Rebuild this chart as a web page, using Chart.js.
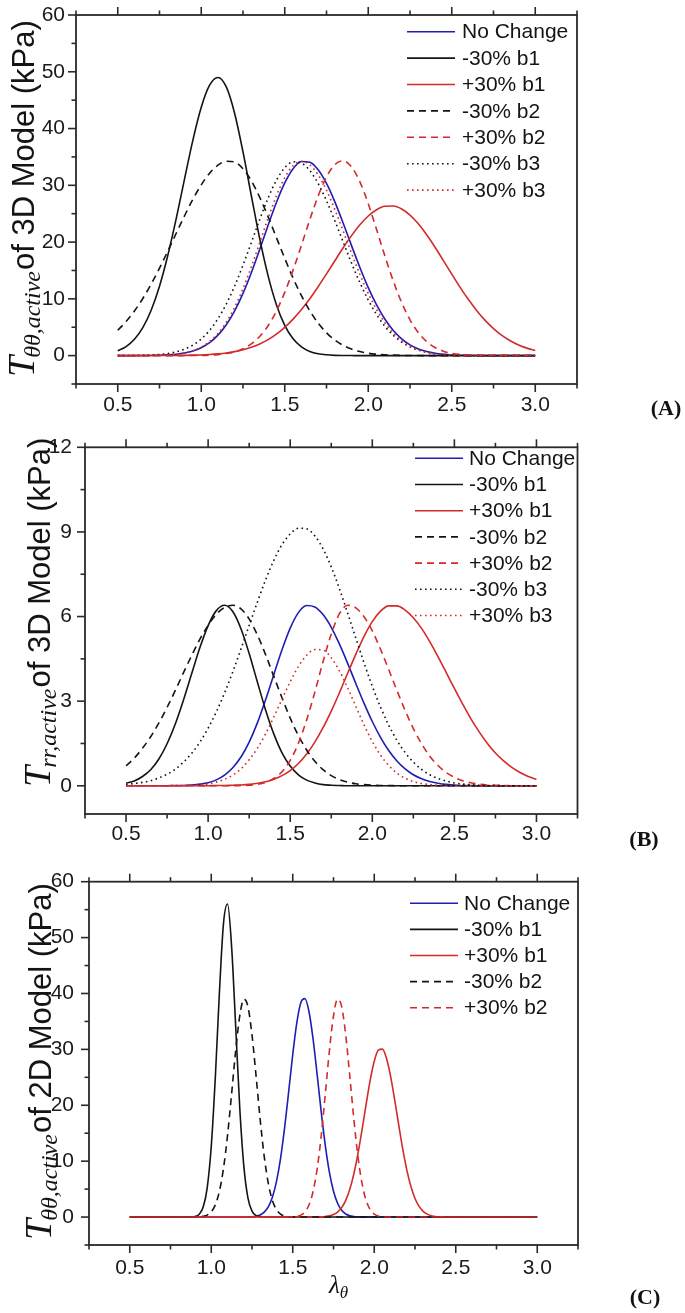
<!DOCTYPE html>
<html><head><meta charset="utf-8">
<script src="https://cdn.jsdelivr.net/npm/chart.js@4.4.1/dist/chart.umd.min.js"></script>
<style>
html,body{margin:0;padding:0;background:#fff;}
body{width:685px;height:1313px;position:relative;overflow:hidden;}
canvas{position:absolute;left:0;}
</style></head><body>
<canvas id="cA" width="685" height="440" style="top:0px"></canvas>
<canvas id="cB" width="685" height="445" style="top:425px"></canvas>
<canvas id="cC" width="685" height="453" style="top:860px"></canvas>
<script>
// ---------- data ----------
const legendLabels = ['No Change','-30% b1','+30% b1','-30% b2','+30% b2','-30% b3','+30% b3'];
const xTickVals = [0.5,1.0,1.5,2.0,2.5,3.0];
const xTickLabels = ['0.5','1.0','1.5','2.0','2.5','3.0'];
const xMinorVals = [0.25,0.75,1.25,1.75,2.25,2.75,3.25];
const aYTicks = [0,10,20,30,40,50,60];
const aYTickLabels = ['0','10','20','30','40','50','60'];
const aYMinor = [-5,5,15,25,35,45,55];
const bYTicks = [0,3,6,9,12];
const bYTickLabels = ['0','3','6','9','12'];
const bYMinor = [1.5,4.5,7.5,10.5];
const cYTicks = [0,10,20,30,40,50,60];
const cYTickLabels = ['0','10','20','30','40','50','60'];
const cYMinor = [-5,5,15,25,35,45,55];

// lambda grid for panels A and B
const xGrid = [0.5,0.55,0.6,0.65,0.7,0.75,0.8,0.85,0.9,0.95,1.0,1.05,1.1,1.15,1.2,1.25,1.3,1.35,1.4,1.45,1.5,1.55,1.6,1.65,1.7,1.75,1.8,1.85,1.9,1.95,2.0,2.05,2.1,2.15,2.2,2.25,2.3,2.35,2.4,2.45,2.5,2.55,2.6,2.65,2.7,2.75,2.8,2.85,2.9,2.95,3.0];

// Panel A: T_theta-theta,active of 3D model (kPa)
const aNoChange = [0,0,0.01,0.01,0.03,0.06,0.13,0.25,0.46,0.81,1.40,2.28,3.61,5.45,7.89,10.97,14.61,18.68,22.92,26.96,30.42,32.93,34.19,34.07,32.74,30.32,27.09,23.33,19.38,15.52,11.98,8.92,6.41,4.43,2.96,1.90,1.18,0.71,0.41,0.23,0.12,0.06,0.03,0.01,0,0,0,0,0,0,0];
const aMinusB1 = [0.83,1.59,2.88,4.93,7.99,12.22,17.67,24.12,31.13,37.97,43.75,47.63,49.0,47.33,42.66,35.88,28.16,20.61,14.09,8.98,5.34,2.96,1.54,0.74,0.33,0.14,0.05,0.02,0.01,0,0,0,0,0,0,0,0,0,0,0,0,0,0,0,0,0,0,0,0,0,0];
const aPlusB1 = [0,0,0,0,0.01,0.01,0.02,0.03,0.05,0.08,0.12,0.20,0.31,0.47,0.70,1.02,1.46,2.05,2.81,3.78,4.98,6.42,8.11,10.03,12.14,14.39,16.71,19.00,21.14,23.04,24.59,25.70,26.30,26.35,25.83,24.76,23.21,21.28,19.08,16.73,14.35,12.03,9.87,7.92,6.21,4.77,3.57,2.62,1.88,1.32,0.91];
const aMinusB2 = [4.47,6.00,7.86,10.06,12.59,15.41,18.43,21.55,24.64,27.54,30.08,32.13,33.55,34.24,34.10,32.93,30.79,27.90,24.48,20.80,17.13,13.65,10.55,7.89,5.72,4.01,2.73,1.80,1.15,0.71,0.42,0.25,0.14,0.08,0.04,0.02,0.01,0,0,0,0,0,0,0,0,0,0,0,0,0,0];
const aPlusB2 = [0,0,0,0,0,0,0,0,0.01,0.02,0.04,0.09,0.18,0.36,0.67,1.21,2.07,3.38,5.27,7.85,11.14,15.07,19.45,23.94,28.12,31.49,33.65,34.30,33.24,30.61,26.76,22.22,17.52,13.12,9.33,6.30,4.04,2.46,1.42,0.78,0.41,0.20,0.09,0.04,0.02,0.01,0,0,0,0,0];
const aMinusB3 = [0.01,0.01,0.03,0.06,0.11,0.21,0.38,0.67,1.14,1.86,2.93,4.45,6.49,9.09,12.27,15.94,19.92,23.97,27.74,30.89,33.11,34.14,33.92,32.60,30.32,27.28,23.74,19.99,16.29,12.84,9.79,7.23,5.16,3.56,2.38,1.54,0.96,0.58,0.34,0.19,0.10,0.05,0.03,0.01,0,0,0,0,0,0,0];
const aPlusB3 = [0,0,0.01,0.01,0.03,0.06,0.13,0.26,0.49,0.87,1.50,2.48,3.91,5.90,8.53,11.81,15.66,19.88,24.17,28.13,31.36,33.47,34.20,33.60,31.85,29.14,25.73,21.92,18.02,14.30,10.95,8.09,5.77,3.97,2.64,1.69,1.05,0.62,0.36,0.20,0.11,0.05,0.03,0.01,0,0,0,0,0,0,0];

// Panel B: T_rr,active of 3D model (kPa)
const bNoChange = [0,0,0,0,0,0,0.01,0.01,0.03,0.06,0.11,0.21,0.38,0.64,1.02,1.55,2.23,3.05,3.94,4.82,5.59,6.14,6.39,6.34,6.07,5.62,5.02,4.34,3.62,2.92,2.28,1.72,1.25,0.88,0.60,0.39,0.25,0.15,0.09,0.05,0.03,0.01,0.01,0,0,0,0,0,0,0,0];
const bMinusB1 = [0.09,0.17,0.33,0.57,0.95,1.49,2.19,3.04,3.98,4.90,5.68,6.21,6.40,6.18,5.57,4.69,3.68,2.69,1.84,1.17,0.70,0.39,0.20,0.10,0.04,0.02,0.01,0,0,0,0,0,0,0,0,0,0,0,0,0,0,0,0,0,0,0,0,0,0,0,0];
const bPlusB1 = [0,0,0,0,0,0,0,0,0,0,0,0.01,0.01,0.02,0.03,0.05,0.09,0.14,0.23,0.36,0.54,0.79,1.13,1.55,2.06,2.65,3.30,3.99,4.67,5.30,5.82,6.19,6.38,6.38,6.23,5.96,5.58,5.11,4.58,4.02,3.45,2.90,2.38,1.92,1.51,1.16,0.88,0.65,0.47,0.33,0.23];
const bMinusB2 = [0.71,0.98,1.33,1.74,2.23,2.78,3.38,4.01,4.62,5.20,5.69,6.08,6.32,6.40,6.27,5.91,5.35,4.65,3.88,3.12,2.40,1.78,1.27,0.87,0.57,0.36,0.22,0.13,0.07,0.04,0.02,0.01,0.01,0,0,0,0,0,0,0,0,0,0,0,0,0,0,0,0,0,0];
const bPlusB2 = [0,0,0,0,0,0,0,0,0,0,0,0,0,0,0.01,0.02,0.05,0.12,0.26,0.50,0.90,1.51,2.33,3.32,4.40,5.38,6.10,6.40,6.31,5.99,5.49,4.84,4.12,3.38,2.67,2.03,1.49,1.05,0.72,0.47,0.30,0.18,0.11,0.06,0.03,0.02,0.01,0,0,0,0];
const bMinusB3 = [0.05,0.08,0.12,0.18,0.28,0.41,0.59,0.84,1.15,1.55,2.04,2.62,3.29,4.04,4.85,5.68,6.51,7.30,7.99,8.55,8.93,9.13,9.11,8.86,8.40,7.76,6.98,6.12,5.23,4.35,3.53,2.79,2.15,1.61,1.18,0.84,0.58,0.39,0.26,0.17,0.10,0.06,0.04,0.02,0.01,0.01,0,0,0,0,0];
const bPlusB3 = [0,0,0,0,0,0,0.01,0.01,0.02,0.04,0.07,0.13,0.23,0.38,0.60,0.92,1.33,1.84,2.44,3.07,3.69,4.23,4.63,4.83,4.81,4.54,4.07,3.47,2.81,2.16,1.57,1.09,0.72,0.45,0.27,0.15,0.08,0.04,0.02,0.01,0,0,0,0,0,0,0,0,0,0,0];

// Panel C: T_theta-theta,active of 2D model (kPa)
const cNoChangeX = [0.5,1.2,1.225,1.25,1.275,1.3,1.325,1.35,1.375,1.4,1.425,1.45,1.475,1.5,1.525,1.55,1.575,1.6,1.625,1.65,1.675,1.7,1.725,1.75,1.775,1.8,1.825,1.85,1.875,1.9,1.925,1.95,3.0];
const cNoChangeY = [0,0,0.02,0.05,0.15,0.38,0.87,1.82,3.54,6.34,10.47,15.96,22.43,29.09,34.79,38.39,39.08,36.69,31.78,25.40,18.72,12.73,7.99,4.62,2.47,1.21,0.55,0.23,0.09,0.03,0.01,0,0];
const cMinusB1X = [0.5,0.85,0.875,0.9,0.925,0.95,0.975,1.0,1.025,1.05,1.075,1.1,1.125,1.15,1.175,1.2,1.225,1.25,1.275,1.3,1.325,3.0];
const cMinusB1Y = [0,0,0.02,0.10,0.47,1.74,5.19,12.62,24.96,40.14,52.51,56.0,48.34,34.03,19.48,9.07,3.43,1.06,0.27,0.05,0,0];
const cPlusB1X = [0.5,1.625,1.65,1.675,1.7,1.725,1.75,1.775,1.8,1.825,1.85,1.875,1.9,1.925,1.95,1.975,2.0,2.025,2.05,2.075,2.1,2.125,2.15,2.175,2.2,2.225,2.25,2.275,2.3,2.325,2.35,2.375,2.4,2.425,2.45,3.0];
const cPlusB1Y = [0,0,0.02,0.04,0.09,0.21,0.45,0.90,1.69,2.99,4.97,7.74,11.33,15.59,20.14,24.45,27.88,29.86,30.05,28.41,25.23,21.04,16.49,12.14,8.40,5.45,3.33,1.91,1.03,0.52,0.25,0.11,0.05,0.02,0,0];
const cMinusB2X = [0.5,0.9,0.925,0.95,0.975,1.0,1.025,1.05,1.075,1.1,1.125,1.15,1.175,1.2,1.225,1.25,1.275,1.3,1.325,1.35,1.375,1.4,1.425,1.45,1.475,1.5,3.0];
const cMinusB2Y = [0,0,0.03,0.12,0.35,0.93,2.19,4.61,8.68,14.64,22.08,29.80,36.00,38.99,37.64,32.58,25.23,17.49,10.84,6.02,2.99,1.33,0.53,0.19,0.06,0,0];
const cPlusB2X = [0.5,1.475,1.5,1.525,1.55,1.575,1.6,1.625,1.65,1.675,1.7,1.725,1.75,1.775,1.8,1.825,1.85,1.875,1.9,1.925,1.95,1.975,2.0,2.025,2.05,2.075,3.0];
const cPlusB2Y = [0,0,0.03,0.12,0.35,0.93,2.19,4.61,8.68,14.64,22.08,29.80,36.00,38.99,37.64,32.58,25.23,17.49,10.84,6.02,2.99,1.33,0.53,0.19,0.06,0,0];

// ---------- styles ----------
const FONT_SANS = "'Liberation Sans', Arial, sans-serif";
const FONT_SERIF = "'Liberation Serif', 'Times New Roman', serif";
const BLUE = '#1e1eb4', RED = '#d42a2a', BLACK = '#141414', AXIS = '#2a2a2a';
const seriesStyle = [
  {color: BLUE, dash: []},
  {color: BLACK, dash: []},
  {color: RED, dash: []},
  {color: BLACK, dash: [7,5]},
  {color: RED, dash: [7,5]},
  {color: BLACK, dash: [1.6,3.4]},
  {color: RED, dash: [1.6,3.4]}
];

function makeDatasets(xsList, ysList) {
  return ysList.map((ys, i) => ({
    label: legendLabels[i],
    data: ys.map((y, j) => ({x: xsList[i][j], y: y})),
    borderColor: seriesStyle[i].color,
    borderDash: seriesStyle[i].dash,
    borderWidth: 1.6,
    pointRadius: 0,
    fill: false,
    cubicInterpolationMode: 'monotone',
    order: ysList.length - i
  }));
}

const panels = [
  { id: 'cA', top: 0, h: 440, area: {top: 15, bottom: 384, left: 76, right: 577},
    yMin: -5, yMax: 60, yTicks: aYTicks, yTickLabels: aYTickLabels, yMinor: aYMinor, yPad: 11, xPad: 9,
    datasets: makeDatasets([xGrid,xGrid,xGrid,xGrid,xGrid,xGrid,xGrid], [aNoChange,aMinusB1,aPlusB1,aMinusB2,aPlusB2,aMinusB3,aPlusB3]),
    legend: {x0: 407, x1: 455, tx: 462, y0: 31.7, dy: 26.4},
    title: {x: 34, y: 377, sub: 'θθ,active', rest: 'of 3D Model (kPa)'},
    tag: {text: '(A)', x: 666, y: 409} },
  { id: 'cB', top: 425, h: 445, area: {top: 447.3, bottom: 814, left: 85, right: 577.5},
    yMin: -1, yMax: 12, yTicks: bYTicks, yTickLabels: bYTickLabels, yMinor: bYMinor, yPad: 13, xPad: 8,
    datasets: makeDatasets([xGrid,xGrid,xGrid,xGrid,xGrid,xGrid,xGrid], [bNoChange,bMinusB1,bPlusB1,bMinusB2,bPlusB2,bMinusB3,bPlusB3]),
    legend: {x0: 415, x1: 463, tx: 469, y0: 458.3, dy: 26.2},
    title: {x: 50, y: 787, sub: 'rr,active', rest: 'of 3D Model (kPa)'},
    tag: {text: '(B)', x: 644, y: 840} },
  { id: 'cC', top: 860, h: 453, area: {top: 881.7, bottom: 1245, left: 89, right: 578},
    yMin: -5, yMax: 60, yTicks: cYTicks, yTickLabels: cYTickLabels, yMinor: cYMinor, yPad: 15, xPad: 11,
    datasets: makeDatasets([cNoChangeX,cMinusB1X,cPlusB1X,cMinusB2X,cPlusB2X], [cNoChangeY,cMinusB1Y,cPlusB1Y,cMinusB2Y,cPlusB2Y]),
    legend: {x0: 410, x1: 458, tx: 464, y0: 903.3, dy: 26.1},
    title: {x: 51, y: 1240, sub: 'θθ,active', rest: 'of 2D Model (kPa)'},
    tag: {text: '(C)', x: 645, y: 1298},
    xTitle: {x: 329, y: 1293} }
];

function makeFramePlugin(p) {
  return {
    id: 'frame' + p.id,
    afterDraw(chart) {
      const ctx = chart.ctx, a = chart.chartArea, xs = chart.scales.x, ys = chart.scales.y;
      const off = p.top;
      const seg = (x1, y1, x2, y2) => { ctx.beginPath(); ctx.moveTo(x1, y1); ctx.lineTo(x2, y2); ctx.stroke(); };
      ctx.save();
      ctx.setLineDash([]);
      ctx.strokeStyle = AXIS; ctx.lineWidth = 1.8;
      ctx.strokeRect(a.left, a.top, a.right - a.left, a.bottom - a.top);
      ctx.lineWidth = 1.6;
      xTickVals.forEach(v => { const px = xs.getPixelForValue(v); seg(px, a.bottom, px, a.bottom + 8); seg(px, a.top, px, a.top - 8); });
      xMinorVals.forEach(v => { const px = xs.getPixelForValue(v); seg(px, a.bottom, px, a.bottom + 4.5); seg(px, a.top, px, a.top - 4.5); });
      p.yTicks.forEach(v => { const py = ys.getPixelForValue(v); seg(a.left, py, a.left - 8, py); });
      p.yMinor.forEach(v => { const py = ys.getPixelForValue(v); seg(a.left, py, a.left - 4.5, py); });

      // legend
      ctx.font = '21px ' + FONT_SANS; ctx.textBaseline = 'middle'; ctx.textAlign = 'left';
      chart.data.datasets.forEach((ds, i) => {
        const y = p.legend.y0 + i * p.legend.dy - off;
        ctx.strokeStyle = ds.borderColor; ctx.lineWidth = 1.6; ctx.setLineDash(ds.borderDash);
        seg(p.legend.x0, y, p.legend.x1, y);
        ctx.setLineDash([]);
        ctx.fillStyle = '#141414';
        ctx.fillText(ds.label, p.legend.tx, y + 1);
      });

      // y title (rotated, mixed fonts)
      ctx.save();
      ctx.translate(p.title.x, p.title.y - off);
      ctx.rotate(-Math.PI / 2);
      ctx.textBaseline = 'alphabetic'; ctx.textAlign = 'left'; ctx.fillStyle = '#141414';
      let u = 0;
      ctx.font = 'italic 38px ' + FONT_SERIF;
      ctx.fillText('T', u, 0); u += ctx.measureText('T').width - 2;
      ctx.font = 'italic 24px ' + FONT_SERIF;
      ctx.fillText(p.title.sub, u, 6); u += ctx.measureText(p.title.sub).width + 1;
      ctx.font = '31px ' + FONT_SANS;
      ctx.fillText(p.title.rest, u, 0);
      ctx.restore();

      // panel tag
      ctx.font = 'bold 22px ' + FONT_SERIF; ctx.textAlign = 'center'; ctx.textBaseline = 'middle';
      ctx.fillStyle = '#111';
      ctx.fillText(p.tag.text, p.tag.x, p.tag.y - off);

      // x title
      if (p.xTitle) {
        ctx.textAlign = 'left'; ctx.textBaseline = 'alphabetic';
        ctx.font = 'italic 25px ' + FONT_SERIF;
        ctx.fillText('λ', p.xTitle.x, p.xTitle.y - off);
        const w = ctx.measureText('λ').width;
        ctx.font = 'italic 17px ' + FONT_SERIF;
        ctx.fillText('θ', p.xTitle.x + w, p.xTitle.y - off + 5);
      }
      ctx.restore();
    }
  };
}

panels.forEach(p => {
  const canvasTop = p.top;
  new Chart(document.getElementById(p.id), {
    type: 'line',
    data: { datasets: p.datasets },
    options: {
      responsive: false, animation: false, devicePixelRatio: 1,
      layout: { padding: { top: p.area.top - canvasTop, right: 685 - p.area.right, left: 0, bottom: 0 } },
      plugins: { legend: {display: false}, tooltip: {enabled: false} },
      scales: {
        x: {
          type: 'linear', min: 0.25, max: 3.25,
          grid: {display: false, drawTicks: false}, border: {display: false},
          afterBuildTicks: sc => { sc.ticks = xTickVals.map(v => ({value: v})); },
          afterFit: sc => { sc.height = p.h - (p.area.bottom - canvasTop); sc.paddingLeft = 0; sc.paddingRight = 0; sc.paddingTop = 0; sc.paddingBottom = 0; },
          ticks: { padding: p.xPad, color: '#1a1a1a', font: {family: FONT_SANS, size: 21}, maxRotation: 0, autoSkip: false,
                   callback: (v, i) => xTickLabels[i] }
        },
        y: {
          type: 'linear', min: p.yMin, max: p.yMax,
          grid: {display: false, drawTicks: false}, border: {display: false},
          afterBuildTicks: sc => { sc.ticks = p.yTicks.map(v => ({value: v})); },
          afterFit: sc => { sc.width = p.area.left; sc.paddingLeft = 0; sc.paddingRight = 0; sc.paddingTop = 0; sc.paddingBottom = 0; },
          ticks: { padding: p.yPad, color: '#1a1a1a', font: {family: FONT_SANS, size: 21}, autoSkip: false,
                   callback: (v, i) => p.yTickLabels[i] }
        }
      }
    },
    plugins: [makeFramePlugin(p)]
  });
});
</script>
</body></html>
